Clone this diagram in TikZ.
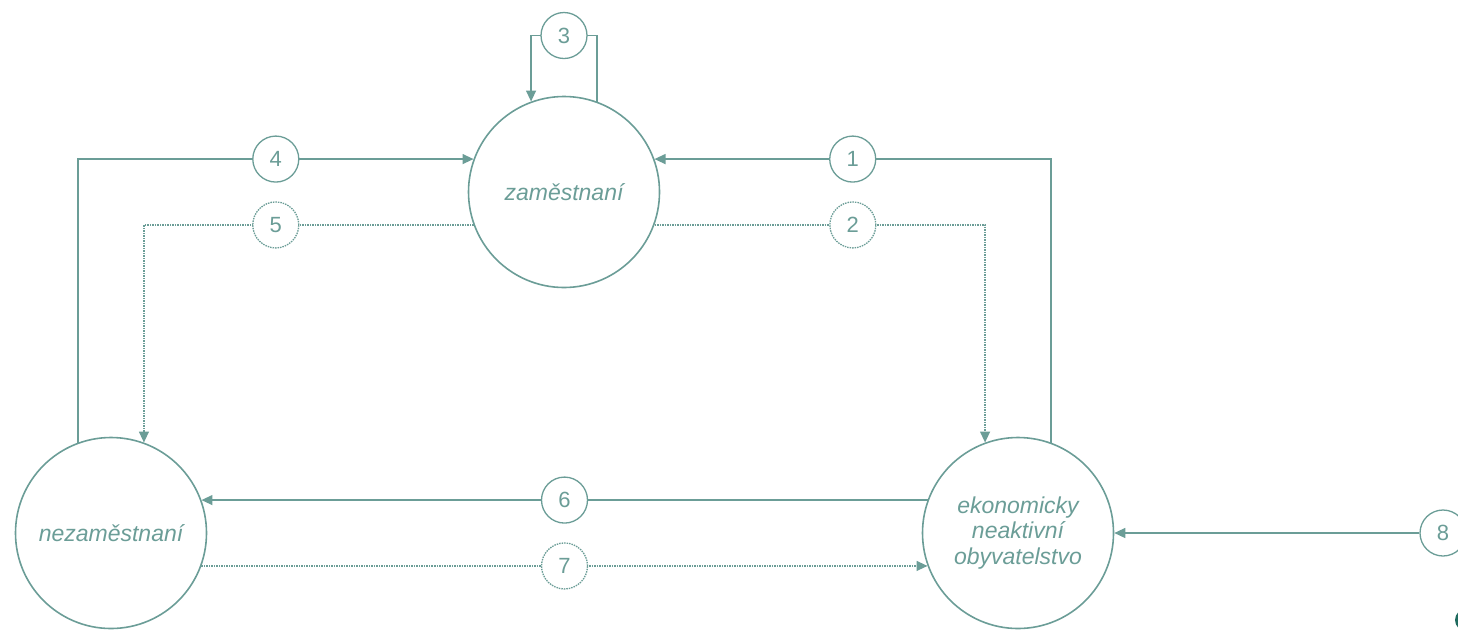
\documentclass[tikz,border=0pt]{standalone}
\usepackage{fontspec}
\setmainfont{Liberation Sans}
\usepackage{tikz}
\usetikzlibrary{arrows.meta}
\definecolor{tokcolor}{HTML}{6B9D97}
\definecolor{tmavacolor}{HTML}{1F6B5F}

\begin{document}
\begin{tikzpicture}[x=1pt,y=-1pt,
    stav/.style={circle,draw=tokcolor,line width=1.6pt,minimum size=191pt,inner sep=0pt,
      align=center,text=tokcolor,font=\fontsize{23}{25.5}\selectfont\itshape},
    cislo/.style={circle,draw=tokcolor,line width=1.3pt,fill=white,minimum size=46pt,
      inner sep=0pt,text=tokcolor,font=\fontsize{22}{22}\selectfont},
    tok/.style={tokcolor,line width=1.3pt,-{Triangle[length=11pt,width=10pt]}},
    tokd/.style={tok,dash pattern=on 1.5pt off 1pt}]
    \useasboundingbox (0,0) rectangle (1458,630);

    \node[stav] (zam) at (564,192) {zaměstnaní};
    \node[stav] (nez) at (111,533) {nezaměstnaní};
    \node[stav] (eko) at (1018,533) {ekonomicky\\neaktivní\\obyvatelstvo};

    \draw[tok] (zam.70)--++(0,-66) -| (zam.110) node[cislo,pos=0.25] (k3) {3};
    \draw[tok] (nez.110) |- (zam.160) node[cislo,pos=0.75] (k4) {4};
    \draw[tok] (eko.70) |- (zam.20) node[cislo,pos=0.75] (k1) {1};
    \draw[tokd] (zam.200) -| (nez.70) node[cislo,dash pattern=on 1.5pt off 1pt,pos=0.3] (k5) {5};
    \draw[tokd] (zam.340) -| (eko.110) node[cislo,dash pattern=on 1.5pt off 1pt,pos=0.3] (k2) {2};
    \draw[tok] (eko.160)--(nez.20) node[cislo,midway] (k6) {6};
    \draw[tokd] (nez.340)--(eko.200) node[cislo,dash pattern=on 1.5pt off 1pt,midway] (k7) {7};

    \node[cislo] (k8) at (1443,533) {8};
    \draw[tok] (k8)--(eko.east);
    \fill[tmavacolor] (1466,620) circle (11);
  \end{tikzpicture}
\end{document}
